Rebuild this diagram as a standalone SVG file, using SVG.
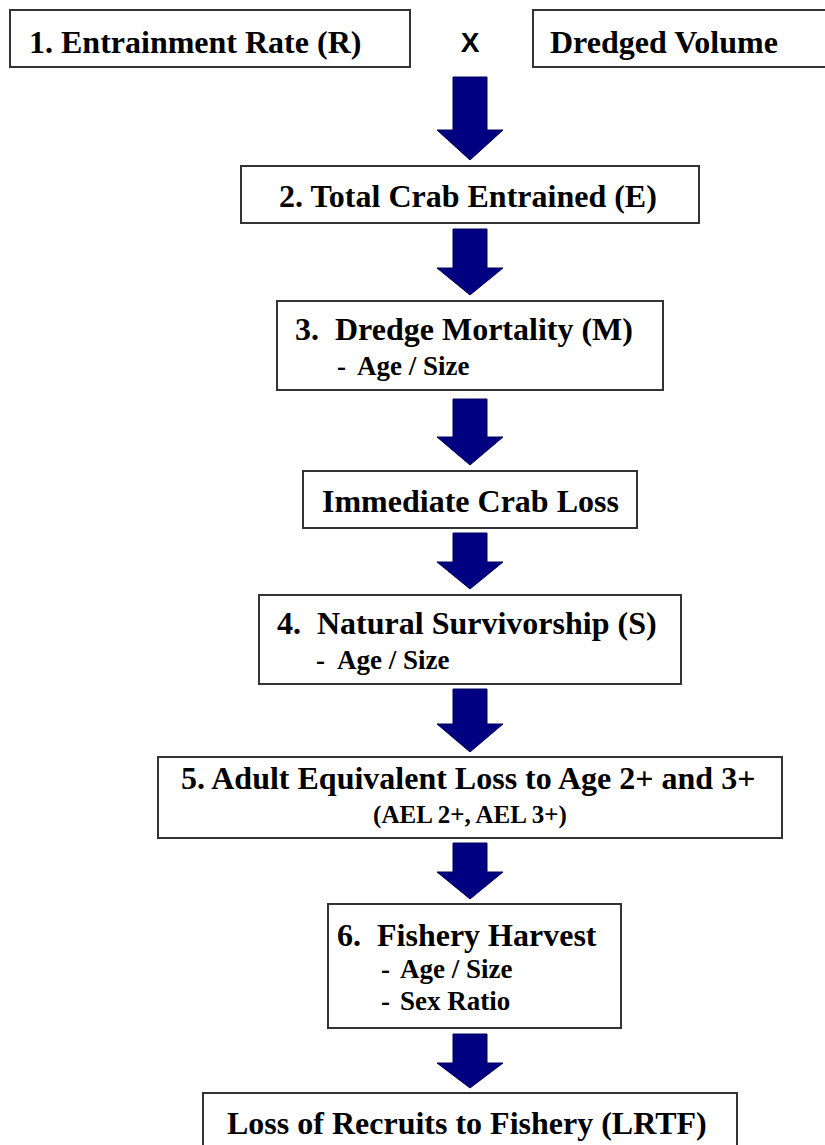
<svg xmlns="http://www.w3.org/2000/svg" width="825" height="1145" viewBox="0 0 825 1145">
<style>
.box{fill:#fff;stroke:#333;stroke-width:2}
.t{font-family:"Liberation Serif","Times New Roman",serif;font-weight:bold;font-size:32px;fill:#000;white-space:pre}
.s{font-family:"Liberation Serif","Times New Roman",serif;font-weight:bold;font-size:27px;fill:#000}
.a{fill:#000080;stroke:#00005a;stroke-width:1}
</style>
<rect width="825" height="1145" fill="#fff"/>
<g id="connectors">
<path class="a" d="M453,77 H487 V130 H503 L470,160 L437,130 H453 Z"/>
<path class="a" d="M453,229 H487 V268 H503 L470,295 L437,268 H453 Z"/>
<path class="a" d="M453,399 H487 V437 H503 L470,465 L437,437 H453 Z"/>
<path class="a" d="M453,533 H487 V562 H503 L470,589 L437,562 H453 Z"/>
<path class="a" d="M453,689 H487 V724 H503 L470,752 L437,724 H453 Z"/>
<path class="a" d="M453,843 H487 V872 H503 L470,899 L437,872 H453 Z"/>
<path class="a" d="M453,1034 H487 V1063 H503 L470,1088 L437,1063 H453 Z"/>
</g>
<g id="n1">
<rect class="box" x="10" y="10" width="400" height="57"/>
<text class="t" x="29" y="53">1. Entrainment Rate (R)</text>
</g>
<g id="times">
<text x="470" y="52" text-anchor="middle" font-family="Liberation Sans, Arial, sans-serif" font-weight="bold" font-size="28">X</text>
</g>
<g id="dredged">
<rect class="box" x="533" y="10" width="300" height="57"/>
<text class="t" x="550" y="53">Dredged Volume</text>
</g>
<g id="n2">
<rect class="box" x="241" y="166" width="458" height="57"/>
<text class="t" x="279" y="207">2. Total Crab Entrained (E)</text>
</g>
<g id="n3">
<rect class="box" x="277" y="301" width="386" height="89"/>
<text class="t" x="295" y="340" xml:space="preserve">3.  Dredge Mortality (M)</text>
<text class="s" x="337" y="375">-</text>
<text class="s" x="357" y="375">Age / Size</text>
</g>
<g id="immediate">
<rect class="box" x="303" y="471" width="334" height="57"/>
<text class="t" x="322" y="512">Immediate Crab Loss</text>
</g>
<g id="n4">
<rect class="box" x="259" y="595" width="422" height="89"/>
<text class="t" x="277" y="634" xml:space="preserve">4.  Natural Survivorship (S)</text>
<text class="s" x="316" y="669">-</text>
<text class="s" x="337" y="669">Age / Size</text>
</g>
<g id="n5">
<rect class="box" x="158" y="757" width="624" height="81"/>
<text class="t" x="181" y="789">5. Adult Equivalent Loss to Age 2+ and 3+</text>
<text class="t" x="470" y="823" text-anchor="middle" style="font-size:25px">(AEL 2+, AEL 3+)</text>
</g>
<g id="n6">
<rect class="box" x="328" y="904" width="293" height="124"/>
<text class="t" x="337" y="946" xml:space="preserve">6.  Fishery Harvest</text>
<text class="s" x="381" y="978">-</text>
<text class="s" x="400" y="978">Age / Size</text>
<text class="s" x="381" y="1010">-</text>
<text class="s" x="400" y="1010">Sex Ratio</text>
</g>
<g id="lrtf">
<rect class="box" x="203" y="1093" width="534" height="60"/>
<text class="t" x="227" y="1134">Loss of Recruits to Fishery (LRTF)</text>
</g>
</svg>
